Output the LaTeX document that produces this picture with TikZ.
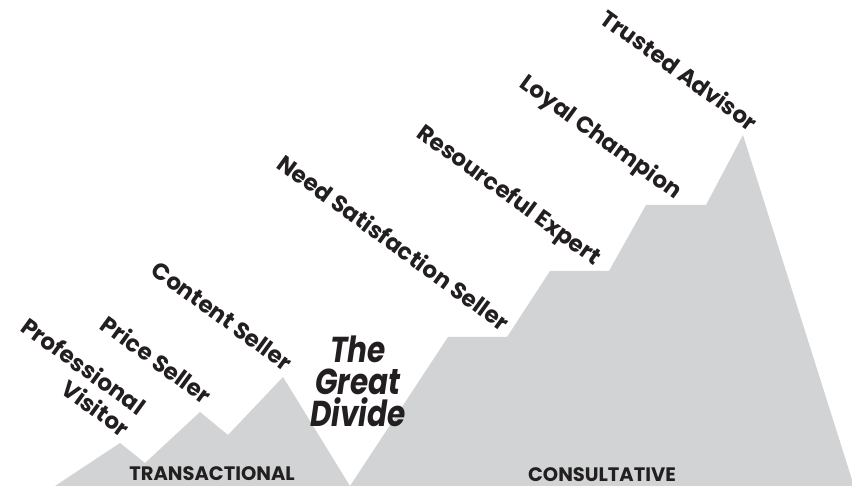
\documentclass[tikz,border=0pt]{standalone}
\usepackage{fontspec}
\setmainfont{Poppins}
\newfontfamily\divfont{Poppins}[FakeStretch=0.82]
\usepackage{tkz-euclide}

\definecolor{rock}{RGB}{209,211,212}
\definecolor{ink}{RGB}{35,31,32}

\tikzset{
  rung/.style={anchor=base east, inner sep=0pt, rotate=-36, text=ink,
    font=\bfseries\fontsize{23}{27}\selectfont},
  rangename/.style={anchor=base, text=ink, inner sep=0pt, text depth=0pt,
    font=\bfseries\fontsize{19.5}{20}\selectfont}
}

\begin{document}
\begin{tikzpicture}[x=1pt,y=1pt]

\useasboundingbox (0,0) rectangle (852,486);

% Feet, peaks and ledges of the two ranges
\tkzDefPoints{55/0/A, 120/43/B, 145/23/C, 200/74/D, 228/51/E, 283/109/F, 350/0/G}
\tkzDefPoints{448/149/H, 507/149/I, 550/215/J, 609/215/K, 646/281/L, 706/281/M, 743/351/N, 854/0/O}

\tkzFillPolygon[rock](A,B,C,D,E,F,G)
\tkzFillPolygon[rock](G,H,I,J,K,L,M,N,O)

% Steps up the slopes
\node[rung, align=right] (pv) at (122,48) {Professional\\Visitor};
\node[rung] (ps) at (204,81) {Price Seller};
\node[rung] (cs) at (285,114) {Content Seller};
\node[rung] (nss) at (502,154) {Need Satisfaction Seller};
\node[rung] (re) at (594,220) {Resourceful Expert};
\node[rung] (lc) at (675,286) {Loyal Champion};
\node[rung] (ta) at (750,354) {Trusted Advisor};

% The gap between the ranges
\node[anchor=base, text=ink, align=center, inner sep=0pt,
  font=\divfont\bfseries\itshape\fontsize{36}{32}\selectfont] (gd) at (358,59) {The\\Great\\Divide};

% Range names
\node[rangename] (tr) at (212,5) {TRANSACTIONAL};
\node[rangename] (co) at (602,4) {CONSULTATIVE};

\end{tikzpicture}
\end{document}
